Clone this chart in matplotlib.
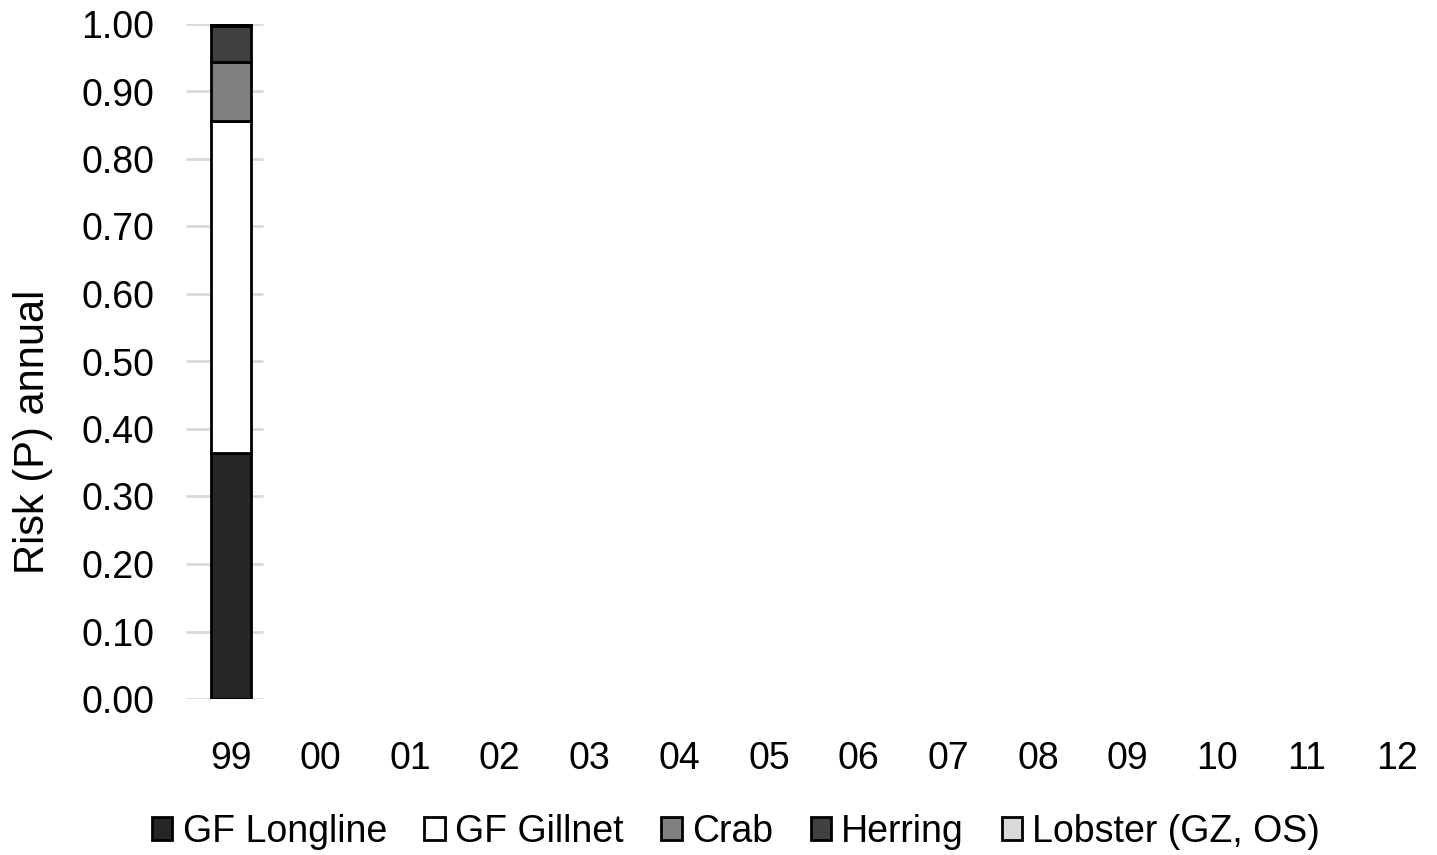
import numpy as np
import matplotlib.pyplot as plt
from matplotlib.patches import Patch

plt.rcParams['font.family'] = ['Liberation Sans', 'DejaVu Sans']

years = ['99', '00', '01', '02', '03', '04', '05', '06', '07', '08', '09', '10', '11', '12']
series = ['GF Longline', 'GF Gillnet', 'Crab', 'Herring', 'Lobster (GZ, OS)']
colors = ['#262626', '#ffffff', '#808080', '#404040', '#d9d9d9']

# only the 99 season has values, later years are empty
gf_longline = [0.364] + [0] * 13
gf_gillnet = [0.492] + [0] * 13
crab = [0.088] + [0] * 13
herring = [0.053] + [0] * 13
lobster = [0.003] + [0] * 13
values = [gf_longline, gf_gillnet, crab, herring, lobster]

fig = plt.figure(figsize=(14.37, 8.55), dpi=100)
ax = fig.add_axes([186 / 1437, 156 / 855, 1251 / 1437, 675 / 855])

x = np.arange(len(years))
yticks = np.arange(0, 1.01, 0.1)

# short grid stubs around the first column
ax.hlines(yticks, -0.5, 0.36, colors='#d9d9d9', linewidth=2, zorder=0)

bottom = np.zeros(len(years))
for vals, col in zip(values, colors):
    vals = np.array(vals)
    mask = vals > 0
    ax.bar(x[mask], vals[mask], width=0.44, bottom=bottom[mask], color=col,
           edgecolor='black', linewidth=2, zorder=2)
    bottom += vals

ax.set_xlim(-0.5, 13.45)
ax.set_ylim(0, 1.0)
ax.set_xticks(x)
ax.set_xticklabels(years)
ax.set_yticks(yticks)
ax.set_yticklabels([f'{v:.2f}' for v in yticks])
ax.tick_params(axis='both', length=0, labelsize=27)
ax.tick_params(axis='x', pad=30)
ax.tick_params(axis='y', pad=23)
for s in ax.spines.values():
    s.set_visible(False)
ax.set_ylabel('Risk (P) annual', fontsize=30)
ax.yaxis.set_label_coords(-0.106, 0.396)
ax.patch.set_alpha(0)

handles = [Patch(facecolor=c, edgecolor='black', linewidth=2) for c in colors]
fig.legend(handles, series, loc='center', bbox_to_anchor=(736 / 1437, 1 - 832 / 855),
           ncol=5, frameon=False, fontsize=27, handlelength=0.55, handleheight=0.55,
           handletextpad=0.27, columnspacing=1.0)

fig.savefig('out.png', dpi=100)
